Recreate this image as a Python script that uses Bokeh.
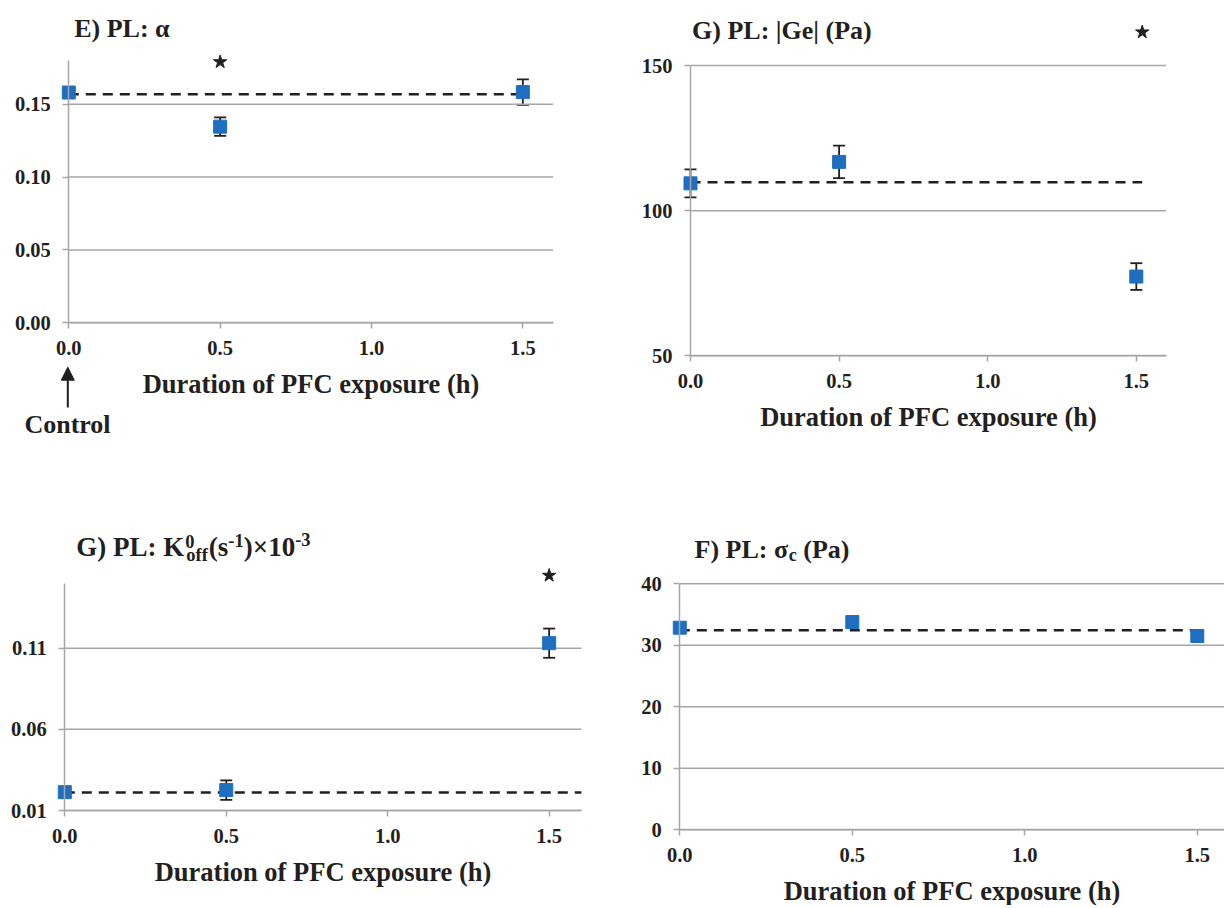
from bokeh.plotting import figure
from bokeh.layouts import column, row
from bokeh.models import (ColumnDataSource, Whisker, TeeHead, Label, Arrow, NormalHead,
                          FixedTicker, NumeralTickFormatter, Range1d)
from bokeh.embed import file_html
from bokeh.resources import INLINE

# ---------------- data ----------------
x_hours = [0.0, 0.5, 1.5]
x_ticks = [0.0, 0.5, 1.0, 1.5]
x_label = "Duration of PFC exposure (h)"

alpha_vals = [0.1580, 0.1346, 0.1583]
alpha_err = [0.0, 0.0063, 0.0088]
alpha_control = 0.1568
alpha_line_x = [0.0, 1.5]
alpha_star_x = [0.5]
alpha_star_y = [0.179]
alpha_yticks = [0.0, 0.05, 0.10, 0.15]

ge_vals = [109.4, 116.8, 77.3]
ge_err = [4.8, 5.6, 4.6]
ge_control = 109.8
ge_line_x = [0.0, 1.52]
ge_star_x = [1.52]
ge_star_y = [161.5]
ge_yticks = [50, 100, 150]

koff_vals = [0.0213, 0.0226, 0.1131]
koff_err = [0.0, 0.006, 0.009]
koff_control = 0.0211
koff_line_x = [0.0, 1.6]
koff_star_x = [1.5]
koff_star_y = [0.1548]
koff_yticks = [0.01, 0.06, 0.11]

sigma_vals = [32.86, 33.78, 31.51]
sigma_control = 32.43
sigma_line_x = [0.0, 1.5]
sigma_yticks = [0, 10, 20, 30, 40]

# ---------------- style ----------------
FONT = "Liberation Serif"
INK = "#231f20"
GRID = "#a6a6a6"
BLUE = "#1f6ebf"
TICK_SIZE = "20.5px"
LABEL_SIZE = "26.5px"

EM = {' ': 0.25, '(': 0.333, ')': 0.333, '-': 0.333, '×': 0.570, ':': 0.333, '|': 0.220,
      'G': 0.778, 'P': 0.611, 'L': 0.667, 'K': 0.778, 'E': 0.667, 'F': 0.611,
      'o': 0.5, 'f': 0.333, 's': 0.389, 'a': 0.5, 'c': 0.444, 'e': 0.444, 'σ': 0.55}


def text_width(s, px):
    return sum(EM.get(ch, 0.5) for ch in s) * px


class Geo:
    """Maps page pixels of the reference layout to data units of one panel."""
    def __init__(self, canvas, x0px, sx, y0px, y0val, sy):
        self.canvas = canvas
        self.x0px, self.sx, self.y0px, self.y0val, self.sy = x0px, sx, y0px, y0val, sy

    def x(self, px):
        return (px - self.x0px) / self.sx

    def y(self, py):
        return self.y0val + (self.y0px - py) / self.sy


def panel(geo, yticks, ybounds, xend, yfmt):
    cx, cy, cw, ch = geo.canvas
    p = figure(width=cw, height=ch,
               x_range=Range1d(geo.x(cx), geo.x(cx + cw)),
               y_range=Range1d(geo.y(cy + ch), geo.y(cy)),
               output_backend="svg", toolbar_location=None,
               min_border=0, min_border_left=0, min_border_right=0,
               min_border_top=0, min_border_bottom=0)
    p.outline_line_color = None
    p.background_fill_color = "white"
    p.border_fill_color = "white"
    p.xgrid.visible = False
    p.ygrid.visible = False
    # horizontal gridlines limited to the plot area
    p.segment(x0=[0.0] * len(yticks), x1=[xend] * len(yticks), y0=yticks, y1=yticks,
              line_color=GRID, line_width=1.5)
    for ax in (p.xaxis[0], p.yaxis[0]):
        ax.axis_line_color = GRID
        ax.axis_line_width = 1.5
        ax.major_tick_line_color = GRID
        ax.major_tick_line_width = 1.5
        ax.major_tick_out = 6
        ax.major_tick_in = 0
        ax.minor_tick_line_color = None
        ax.major_label_text_font = FONT
        ax.major_label_text_font_style = "bold"
        ax.major_label_text_font_size = TICK_SIZE
        ax.major_label_text_color = INK
    p.xaxis.fixed_location = ybounds[0]
    p.xaxis.bounds = (0.0, xend)
    p.xaxis.ticker = FixedTicker(ticks=x_ticks)
    p.xaxis.formatter = NumeralTickFormatter(format="0.0")
    p.xaxis.major_label_standoff = 12
    p.yaxis.fixed_location = 0.0
    p.yaxis.bounds = ybounds
    p.yaxis.ticker = FixedTicker(ticks=yticks)
    p.yaxis.formatter = NumeralTickFormatter(format=yfmt)
    p.yaxis.major_label_standoff = 12
    p.xaxis.axis_label = x_label
    p.xaxis.axis_label_text_font = FONT
    p.xaxis.axis_label_text_font_style = "bold"
    p.xaxis.axis_label_text_font_size = LABEL_SIZE
    p.xaxis.axis_label_text_color = INK
    p.xaxis.axis_label_standoff = 11
    return p


def draw_series(p, vals, err, control, line_x, star_x=None, star_y=None):
    p.line(line_x, [control] * len(line_x), line_dash="10 7", line_width=2.5, color=INK)
    if err is not None:
        xs = [x for x, e in zip(x_hours, err) if e > 0]
        up = [v + e for v, e in zip(vals, err) if e > 0]
        lo = [v - e for v, e in zip(vals, err) if e > 0]
        src = ColumnDataSource(dict(x=xs, upper=up, lower=lo))
        p.add_layout(Whisker(base="x", upper="upper", lower="lower", source=src,
                             dimension="height", line_color=INK, line_width=1.8,
                             upper_head=TeeHead(size=12, line_color=INK, line_width=1.8),
                             lower_head=TeeHead(size=12, line_color=INK, line_width=1.8)))
    p.scatter(x_hours, vals, marker="square", size=13, fill_color=BLUE, line_color=BLUE)
    if star_x is not None:
        p.scatter(star_x, star_y, marker="star", size=14, fill_color=INK, line_color=INK)


def add_text(p, geo, px, py, text, size, align="left"):
    p.add_layout(Label(x=geo.x(px), y=geo.y(py), text=text, text_font=FONT,
                       text_font_style="bold", text_font_size=size, text_color=INK,
                       text_align=align, text_baseline="alphabetic"))


# canvas rectangles (page px) and reference scales
GE = Geo((0, 0, 600, 450), 68.3, 302.7, 322.3, 0.0, 1457.3)
GG = Geo((600, 0, 624, 450), 690.0, 297.2, 355.3, 50.0, 2.903)
GK = Geo((0, 450, 600, 455), 64.3, 322.9, 810.0, 0.01, 1623.0)
GF = Geo((600, 450, 624, 455), 679.3, 345.0, 829.3, 0.0, 6.15)

# ---------------- E) alpha ----------------
pE = panel(GE, alpha_yticks, (0.0, 0.18), 1.6, "0.00")
draw_series(pE, alpha_vals, alpha_err, alpha_control, alpha_line_x, alpha_star_x, alpha_star_y)
add_text(pE, GE, 73.7, 28, "E) PL: α", "26px")
add_text(pE, GE, 67, 423.5, "Control", "26px", align="center")
pE.add_layout(Arrow(end=NormalHead(size=13, fill_color=INK, line_color=INK),
                    x_start=GE.x(67.3), y_start=GE.y(407), x_end=GE.x(67.3), y_end=GE.y(366.7),
                    line_width=2, line_color=INK))

# ---------------- G) |Ge| ----------------
pG = panel(GG, ge_yticks, (50.0, 150.0), 1.6, "0")
draw_series(pG, ge_vals, ge_err, ge_control, ge_line_x, ge_star_x, ge_star_y)
add_text(pG, GG, 691.6, 30, "G) PL: |Ge| (Pa)", "26px")

# ---------------- G) K0off ----------------
pK = panel(GK, koff_yticks, (0.01, 0.15), 1.6, "0.00")
draw_series(pK, koff_vals, koff_err, koff_control, koff_line_x, koff_star_x, koff_star_y)
MAIN, SMALL = 27, 18.5
xo = 75.8
add_text(pK, GK, xo, 546.5, "G) PL: K", f"{MAIN}px")
xo += text_width("G) PL: K", MAIN) + 1
add_text(pK, GK, xo, 540.5, "0", f"{SMALL}px")
add_text(pK, GK, xo + 1, 554.5, "off", f"{SMALL}px")
xo += text_width("off", SMALL) + 2
add_text(pK, GK, xo, 546.5, "(s", f"{MAIN}px")
xo += text_width("(s", MAIN)
add_text(pK, GK, xo, 539.5, "-1", f"{SMALL}px")
xo += text_width("-1", SMALL)
add_text(pK, GK, xo, 546.5, ")×10", f"{MAIN}px")
xo += text_width(")×10", MAIN)
add_text(pK, GK, xo, 538.5, "-3", f"{SMALL}px")

# ---------------- F) sigma_c ----------------
pF = panel(GF, sigma_yticks, (0.0, 40.0), GF.x(1224), "0")
draw_series(pF, sigma_vals, None, sigma_control, sigma_line_x)
xo = 694
add_text(pF, GF, xo, 549, "F) PL: σ", "26px")
xo += text_width("F) PL: σ", 26) + 0.5
add_text(pF, GF, xo, 554.5, "c", "18px")
xo += text_width("c", 18) + text_width(" ", 26)
add_text(pF, GF, xo, 549, "(Pa)", "26px")

layout = column(row(pE, pG, spacing=0), row(pK, pF, spacing=0), spacing=0)
open("out.html", "w").write(file_html(layout, INLINE))
